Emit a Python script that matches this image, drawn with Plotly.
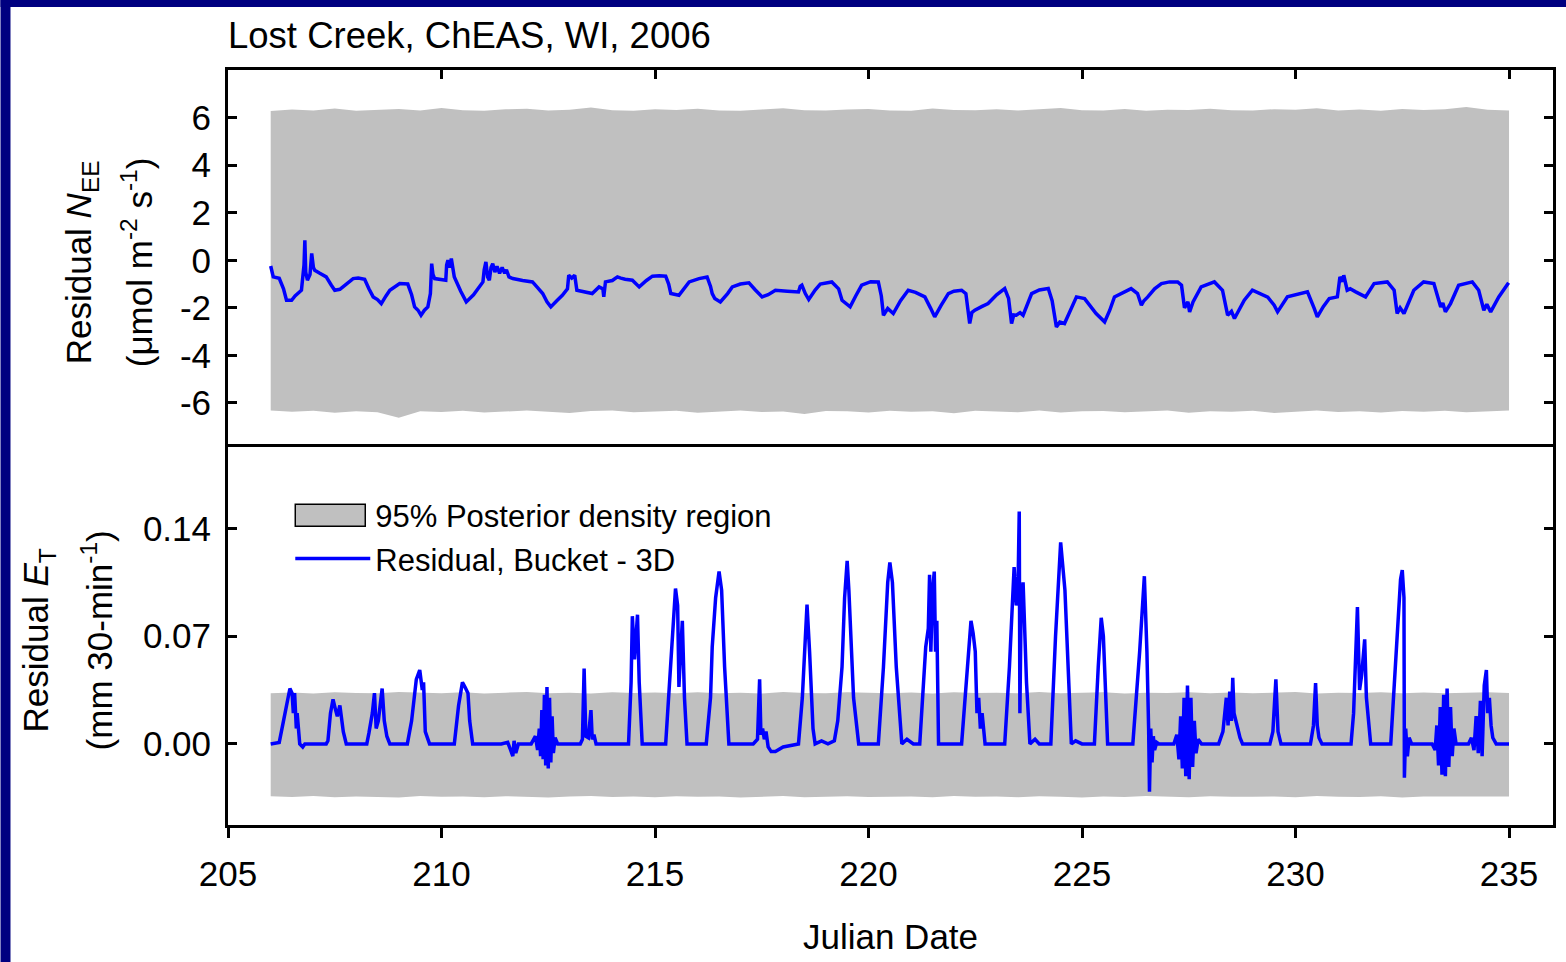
import plotly.graph_objects as go

# ---------------- data ----------------
BAND_DAY = [206.0, 206.5, 207.0, 207.5, 208.0, 208.5, 209.0, 209.5, 210.0, 210.5,
            211.0, 211.5, 212.0, 212.5, 213.0, 213.5, 214.0, 214.5, 215.0, 215.5,
            216.0, 216.5, 217.0, 217.5, 218.0, 218.5, 219.0, 219.5, 220.0, 220.5,
            221.0, 221.5, 222.0, 222.5, 223.0, 223.5, 224.0, 224.5, 225.0, 225.5,
            226.0, 226.5, 227.0, 227.5, 228.0, 228.5, 229.0, 229.5, 230.0, 230.5,
            231.0, 231.5, 232.0, 232.5, 233.0, 233.5, 234.0, 234.5, 235.0]

NEE_BAND_HI = [6.28, 6.34, 6.30, 6.38, 6.29, 6.33, 6.36, 6.30, 6.40, 6.31,
               6.29, 6.35, 6.37, 6.30, 6.33, 6.42, 6.31, 6.29, 6.35, 6.32,
               6.37, 6.30, 6.29, 6.34, 6.39, 6.31, 6.30, 6.34, 6.36, 6.30,
               6.29, 6.38, 6.32, 6.31, 6.35, 6.30, 6.34, 6.40, 6.31, 6.30,
               6.36, 6.29, 6.33, 6.32, 6.37, 6.31, 6.30, 6.35, 6.33, 6.39,
               6.30, 6.34, 6.29, 6.36, 6.32, 6.35, 6.44, 6.33, 6.30]
NEE_BAND_LO = [-6.32, -6.37, -6.33, -6.41, -6.35, -6.39, -6.62, -6.35, -6.38, -6.33,
               -6.40, -6.35, -6.32, -6.37, -6.42, -6.34, -6.32, -6.39, -6.36, -6.33,
               -6.41, -6.35, -6.32, -6.38, -6.36, -6.46, -6.34, -6.35, -6.40, -6.33,
               -6.37, -6.35, -6.43, -6.33, -6.36, -6.39, -6.32, -6.40, -6.35, -6.34,
               -6.39, -6.36, -6.32, -6.41, -6.35, -6.37, -6.33, -6.42, -6.36, -6.32,
               -6.38, -6.35, -6.40, -6.34, -6.37, -6.33, -6.39, -6.35, -6.32]

ET_BAND_HI = [0.0330, 0.0334, 0.0328, 0.0336, 0.0331, 0.0329, 0.0337, 0.0332, 0.0330, 0.0335,
              0.0328, 0.0333, 0.0338, 0.0330, 0.0332, 0.0327, 0.0335, 0.0331, 0.0334, 0.0329,
              0.0336, 0.0330, 0.0333, 0.0328, 0.0337, 0.0331, 0.0329, 0.0335, 0.0332, 0.0330,
              0.0334, 0.0328, 0.0336, 0.0331, 0.0333, 0.0329, 0.0337, 0.0330, 0.0332, 0.0335,
              0.0328, 0.0333, 0.0331, 0.0336, 0.0329, 0.0334, 0.0330, 0.0332, 0.0337, 0.0328,
              0.0333, 0.0331, 0.0335, 0.0329, 0.0334, 0.0330, 0.0332, 0.0336, 0.0331]
ET_BAND_LO = [-0.0340, -0.0345, -0.0338, -0.0347, -0.0341, -0.0343, -0.0349, -0.0339, -0.0344, -0.0342,
              -0.0346, -0.0340, -0.0343, -0.0348, -0.0341, -0.0339, -0.0345, -0.0342, -0.0347, -0.0340,
              -0.0344, -0.0341, -0.0349, -0.0343, -0.0339, -0.0346, -0.0342, -0.0340, -0.0345, -0.0343,
              -0.0341, -0.0347, -0.0339, -0.0344, -0.0342, -0.0346, -0.0340, -0.0343, -0.0348, -0.0341,
              -0.0345, -0.0339, -0.0342, -0.0347, -0.0340, -0.0344, -0.0343, -0.0341, -0.0346, -0.0339,
              -0.0343, -0.0345, -0.0340, -0.0348, -0.0342, -0.0341, -0.0344, -0.0339, -0.0342]

NEE_DAY = [206.00, 206.06, 206.20, 206.30, 206.37, 206.49, 206.57, 206.64, 206.72, 206.78,
           206.80, 206.82, 206.86, 206.92, 206.96, 207.00, 207.03, 207.15, 207.30, 207.42,
           207.50, 207.62, 207.78, 207.93, 208.05, 208.20, 208.30, 208.40, 208.50, 208.59,
           208.70, 208.79, 209.02, 209.21, 209.30, 209.37, 209.45, 209.52, 209.60, 209.68,
           209.74, 209.77, 209.80, 209.84, 210.10, 210.12, 210.15, 210.20, 210.23, 210.27,
           210.30, 210.45, 210.58, 210.75, 210.90, 210.97, 211.00, 211.04, 211.08, 211.12,
           211.16, 211.20, 211.25, 211.30, 211.36, 211.42, 211.48, 211.52, 211.58, 211.67,
           211.90, 212.13, 212.25, 212.37, 212.47, 212.56, 212.70, 212.83, 212.95, 212.98,
           213.05, 213.12, 213.17, 213.35, 213.53, 213.69, 213.78, 213.80, 213.84, 214.00,
           214.12, 214.20, 214.30, 214.47, 214.63, 214.80, 214.94, 215.10, 215.25, 215.32,
           215.37, 215.56, 215.70, 215.80, 216.03, 216.22, 216.30, 216.34, 216.40, 216.53,
           216.70, 216.81, 217.00, 217.20, 217.35, 217.51, 217.65, 217.82, 218.10, 218.36,
           218.40, 218.44, 218.52, 218.60, 218.75, 218.87, 219.14, 219.30, 219.38, 219.47,
           219.57, 219.70, 219.84, 220.05, 220.23, 220.30, 220.35, 220.45, 220.58, 220.75,
           220.93, 221.10, 221.32, 221.45, 221.55, 221.70, 221.87, 222.00, 222.18, 222.28,
           222.37, 222.42, 222.49, 222.65, 222.80, 223.00, 223.19, 223.28, 223.35, 223.40,
           223.46, 223.55, 223.62, 223.82, 224.00, 224.21, 224.30, 224.40, 224.48, 224.59,
           224.75, 224.87, 225.06, 225.20, 225.33, 225.53, 225.65, 225.76, 225.80, 226.00,
           226.15, 226.30, 226.39, 226.45, 226.54, 226.70, 226.86, 227.05, 227.24, 227.33,
           227.40, 227.48, 227.52, 227.60, 227.79, 228.10, 228.29, 228.41, 228.50, 228.57,
           228.80, 228.99, 229.19, 229.35, 229.50, 229.58, 229.81, 230.05, 230.28, 230.44,
           230.51, 230.65, 230.79, 230.98, 231.02, 231.04, 231.10, 231.13, 231.21, 231.28,
           231.41, 231.64, 231.84, 232.15, 232.31, 232.38, 232.45, 232.54, 232.77, 233.00,
           233.24, 233.40, 233.45, 233.51, 233.63, 233.82, 234.14, 234.29, 234.41, 234.48,
           234.57, 234.76, 234.99]
NEE_RES = [-0.24, -0.70, -0.76, -1.20, -1.68, -1.68, -1.50, -1.40, -1.26, -0.20,
           0.84, -0.50, -0.84, -0.60, 0.29, -0.30, -0.42, -0.55, -0.70, -1.05,
           -1.26, -1.22, -1.00, -0.77, -0.75, -0.80, -1.20, -1.54, -1.65, -1.82,
           -1.50, -1.26, -0.98, -1.00, -1.45, -1.96, -2.10, -2.31, -2.10, -1.96,
           -1.40, -0.14, -0.60, -0.77, -0.84, -0.20, 0.00, -0.30, 0.07, -0.30,
           -0.70, -1.30, -1.75, -1.45, -1.10, -0.91, -0.40, -0.07, -0.70, -0.84,
           -0.30, -0.14, -0.50, -0.25, -0.55, -0.30, -0.55, -0.40, -0.70, -0.77,
           -0.85, -0.91, -1.15, -1.40, -1.75, -1.96, -1.70, -1.47, -1.20, -0.63,
           -0.75, -0.63, -1.26, -1.32, -1.40, -1.12, -1.20, -1.54, -0.91, -0.85,
           -0.70, -0.75, -0.80, -0.84, -1.12, -0.85, -0.67, -0.65, -0.67, -1.00,
           -1.40, -1.47, -1.15, -0.91, -0.77, -0.70, -1.10, -1.40, -1.61, -1.75,
           -1.40, -1.12, -1.00, -0.95, -1.25, -1.54, -1.45, -1.26, -1.30, -1.33,
           -1.10, -1.05, -1.40, -1.65, -1.25, -1.00, -0.91, -1.20, -1.68, -1.80,
           -1.96, -1.50, -1.05, -0.90, -0.91, -1.50, -2.31, -2.03, -2.24, -1.70,
           -1.26, -1.35, -1.54, -2.00, -2.38, -1.90, -1.40, -1.30, -1.26, -1.40,
           -2.66, -2.20, -2.10, -1.95, -1.82, -1.45, -1.19, -1.60, -2.66, -2.30,
           -2.31, -2.20, -2.31, -1.40, -1.25, -1.19, -1.70, -2.80, -2.60, -2.66,
           -2.00, -1.54, -1.61, -1.95, -2.24, -2.59, -2.10, -1.54, -1.50, -1.30,
           -1.19, -1.40, -1.89, -1.70, -1.54, -1.20, -0.98, -0.91, -0.91, -1.05,
           -2.00, -1.75, -2.17, -1.75, -1.12, -0.91, -1.26, -2.31, -2.15, -2.45,
           -1.68, -1.26, -1.40, -1.55, -1.89, -2.17, -1.54, -1.45, -1.33, -2.03,
           -2.38, -1.95, -1.61, -1.54, -1.00, -0.70, -0.90, -0.63, -1.26, -1.20,
           -1.33, -1.54, -0.98, -0.91, -1.26, -2.24, -2.00, -2.24, -1.26, -0.91,
           -0.98, -1.96, -1.80, -2.17, -1.82, -1.05, -0.91, -1.26, -2.10, -1.85,
           -2.17, -1.54, -0.95]

ET_DAY = [206.00, 206.20, 206.30, 206.40, 206.45, 206.50, 206.53, 206.56, 206.60, 206.62,
          206.68, 206.75, 206.80, 207.30, 207.34, 207.40, 207.46, 207.52, 207.56, 207.62,
          207.70, 207.77, 208.25, 208.30, 208.38, 208.43, 208.47, 208.52, 208.58, 208.61,
          208.66, 208.72, 208.79, 209.20, 209.30, 209.41, 209.49, 209.55, 209.58, 209.62,
          209.72, 210.30, 210.40, 210.49, 210.55, 210.62, 210.66, 210.73, 211.40, 211.55,
          211.62, 211.67, 211.70, 211.74, 211.80, 212.10, 212.20, 212.25, 212.29, 212.32,
          212.35, 212.38, 212.41, 212.44, 212.47, 212.50, 212.53, 212.56, 212.59, 212.62,
          212.66, 212.72, 213.25, 213.30, 213.34, 213.38, 213.44, 213.50, 213.53, 213.57,
          213.62, 214.38, 214.44, 214.47, 214.52, 214.55, 214.59, 214.63, 214.70, 215.25,
          215.32, 215.40, 215.48, 215.53, 215.56, 215.60, 215.64, 215.69, 215.75, 216.20,
          216.30, 216.34, 216.42, 216.50, 216.56, 216.63, 216.73, 217.30, 217.40, 217.45,
          217.48, 217.52, 217.56, 217.60, 217.65, 217.72, 217.82, 218.00, 218.36, 218.45,
          218.52, 218.56, 218.62, 218.70, 218.75, 218.90, 219.05, 219.20, 219.28, 219.38,
          219.44, 219.50, 219.54, 219.58, 219.65, 219.77, 220.23, 220.35, 220.45, 220.50,
          220.56, 220.65, 220.78, 220.90, 221.05, 221.20, 221.30, 221.34, 221.40, 221.43,
          221.46, 221.50, 221.54, 221.57, 221.60, 221.64, 222.18, 222.30, 222.40, 222.45,
          222.50, 222.54, 222.58, 222.62, 222.66, 222.73, 223.19, 223.30, 223.41, 223.46,
          223.50, 223.53, 223.545, 223.57, 223.62, 223.70, 223.78, 223.90, 224.00, 224.27,
          224.38, 224.50, 224.60, 224.75, 224.85, 225.00, 225.29, 225.38, 225.45, 225.50,
          225.55, 225.60, 226.19, 226.35, 226.46, 226.52, 226.56, 226.58, 226.61, 226.64,
          226.67, 226.70, 226.75, 226.80, 227.15, 227.22, 227.27, 227.31, 227.35, 227.39,
          227.43, 227.47, 227.51, 227.55, 227.59, 227.63, 227.67, 227.72, 227.80, 228.20,
          228.30, 228.38, 228.42, 228.46, 228.50, 228.53, 228.56, 228.62, 228.70, 228.76,
          229.40, 229.47, 229.54, 229.59, 229.66, 230.35, 230.42, 230.47, 230.51, 230.55,
          230.62, 231.30, 231.36, 231.45, 231.50, 231.55, 231.62, 231.66, 231.76, 232.23,
          232.35, 232.46, 232.50, 232.54, 232.55, 232.58, 232.62, 232.66, 232.72, 233.20,
          233.27, 233.31, 233.35, 233.39, 233.43, 233.47, 233.51, 233.55, 233.59, 233.63,
          233.67, 233.71, 233.76, 234.05, 234.12, 234.18, 234.23, 234.28, 234.33, 234.37,
          234.42, 234.47, 234.50, 234.54, 234.58, 234.62, 234.70, 235.00]
ET_RES = [0.000, 0.001, 0.015, 0.030, 0.036, 0.033, 0.020, 0.033, 0.010, 0.020,
          0.000, -0.002, 0.000, 0.000, 0.002, 0.020, 0.029, 0.022, 0.018, 0.025,
          0.008, 0.000, 0.000, 0.007, 0.020, 0.033, 0.010, 0.015, 0.030, 0.036,
          0.015, 0.005, 0.000, 0.000, 0.015, 0.042, 0.048, 0.035, 0.040, 0.008,
          0.000, 0.000, 0.025, 0.040, 0.037, 0.033, 0.015, 0.000, 0.000, 0.001,
          -0.004, -0.008, 0.002, -0.006, 0.000, 0.000, 0.005, -0.004, 0.010, -0.008,
          0.022, -0.010, 0.032, -0.014, 0.037, -0.016, 0.030, -0.012, 0.018, -0.006,
          0.004, 0.000, 0.000, 0.003, 0.049, 0.005, 0.004, 0.022, 0.003, 0.006,
          0.000, 0.000, 0.040, 0.083, 0.055, 0.070, 0.084, 0.040, 0.000, 0.000,
          0.030, 0.070, 0.101, 0.090, 0.037, 0.060, 0.080, 0.030, 0.000, 0.000,
          0.030, 0.063, 0.095, 0.112, 0.100, 0.050, 0.000, 0.000, 0.003, 0.042,
          0.006, 0.010, 0.003, 0.008, -0.002, -0.005, -0.005, -0.002, 0.000, 0.030,
          0.070, 0.0905, 0.060, 0.010, 0.000, 0.002, 0.000, 0.002, 0.015, 0.050,
          0.095, 0.119, 0.100, 0.070, 0.030, 0.000, 0.000, 0.050, 0.105, 0.118,
          0.105, 0.050, 0.000, 0.003, 0.000, 0.000, 0.040, 0.063, 0.075, 0.110,
          0.060, 0.100, 0.112, 0.060, 0.080, 0.000, 0.000, 0.040, 0.080, 0.072,
          0.060, 0.020, 0.030, 0.010, 0.020, 0.000, 0.000, 0.050, 0.115, 0.090,
          0.100, 0.151, 0.020, 0.080, 0.105, 0.040, 0.000, 0.003, 0.000, 0.000,
          0.070, 0.131, 0.100, 0.000, 0.002, 0.000, 0.000, 0.050, 0.082, 0.070,
          0.040, 0.000, 0.000, 0.060, 0.109, 0.060, 0.010, -0.031, 0.010, -0.012,
          0.005, -0.004, 0.001, 0.000, 0.000, 0.006, -0.010, 0.018, -0.016, 0.030,
          -0.021, 0.038, -0.023, 0.030, -0.015, 0.015, -0.006, 0.003, 0.000, 0.000,
          0.008, 0.030, 0.012, 0.034, 0.015, 0.043, 0.020, 0.012, 0.004, 0.000,
          0.000, 0.008, 0.042, 0.008, 0.000, 0.000, 0.012, 0.0395, 0.012, 0.004,
          0.000, 0.000, 0.020, 0.089, 0.035, 0.045, 0.068, 0.030, 0.000, 0.000,
          0.060, 0.107, 0.113, 0.095, -0.022, 0.010, -0.008, 0.004, 0.000, 0.000,
          -0.004, 0.012, -0.014, 0.024, -0.020, 0.032, -0.021, 0.036, -0.015, 0.024,
          -0.008, 0.010, 0.000, 0.000, 0.004, -0.004, 0.018, -0.006, 0.028, -0.008,
          0.038, 0.048, 0.020, 0.030, 0.012, 0.004, 0.000, 0.000]

X_TICKS = [205, 210, 215, 220, 225, 230, 235]
NEE_TICKS = [-6, -4, -2, 0, 2, 4, 6]
NEE_TICK_TEXT = ["-6", "-4", "-2", "0", "2", "4", "6"]
ET_TICKS = [0.00, 0.07, 0.14]
ET_TICK_TEXT = ["0.00", "0.07", "0.14"]

TITLE = "Lost Creek, ChEAS, WI, 2006"
BAND_NAME = "95% Posterior density region"
LINE_NAME = "Residual, Bucket - 3D"

# ---------------- style ----------------
FONT = "Liberation Sans, Arial, sans-serif"
NAVY = "#000080"
GRAY = "#C0C0C0"
BLUE = "#0000FF"
TICKFONT = dict(family=FONT, size=35, color="black")

fig = go.Figure()

# top panel
fig.add_trace(go.Scatter(x=BAND_DAY, y=NEE_BAND_LO, mode="lines", line=dict(width=0, color=GRAY),
                         showlegend=False, hoverinfo="skip", xaxis="x", yaxis="y"))
fig.add_trace(go.Scatter(x=BAND_DAY, y=NEE_BAND_HI, mode="lines", line=dict(width=0, color=GRAY),
                         fill="tonexty", fillcolor=GRAY, showlegend=False, xaxis="x", yaxis="y"))
fig.add_trace(go.Scatter(x=NEE_DAY, y=NEE_RES, mode="lines", line=dict(width=3.5, color=BLUE),
                         showlegend=False, xaxis="x", yaxis="y"))

# bottom panel
fig.add_trace(go.Scatter(x=BAND_DAY, y=ET_BAND_LO, mode="lines", line=dict(width=0, color=GRAY),
                         showlegend=False, hoverinfo="skip", xaxis="x2", yaxis="y2"))
fig.add_trace(go.Scatter(x=BAND_DAY, y=ET_BAND_HI, mode="lines", line=dict(width=0, color=GRAY),
                         fill="tonexty", fillcolor=GRAY, showlegend=False,
                         xaxis="x2", yaxis="y2"))
# legend key for the band (no data drawn)
fig.add_trace(go.Scatter(x=[None], y=[None], mode="lines", fill="toself", fillcolor=GRAY,
                         line=dict(width=0, color=GRAY), name=BAND_NAME, showlegend=True,
                         xaxis="x2", yaxis="y2"))
fig.add_trace(go.Scatter(x=ET_DAY, y=ET_RES, mode="lines", line=dict(width=3.5, color=BLUE),
                         name=LINE_NAME, showlegend=True, xaxis="x2", yaxis="y2"))

XR = [205, 236.03]
SPLIT = 0.5007
common_line = dict(linewidth=3, linecolor="black", showgrid=False, zeroline=False,
                   tickwidth=3, tickcolor="black", tickfont=TICKFONT)

# paper coordinates of the page edges (for the navy frame strips)
PX0 = -228 / 1328
PX_LEFT = (10 - 228) / 1328
PY_TOP = 825 / 755
PY_STRIP = (825 - 7) / 755

fig.update_layout(
    width=1566, height=962,
    margin=dict(l=228, r=10, t=70, b=137),
    paper_bgcolor="white", plot_bgcolor="white",
    font=dict(family=FONT, color="black"),
    xaxis=dict(domain=[0, 1], anchor="y", range=XR, tickvals=X_TICKS, showticklabels=False,
               side="top", showline=True, mirror=False, ticks="inside", ticklen=9, **common_line),
    xaxis4=dict(overlaying="x", anchor="y", range=XR, tickvals=X_TICKS, showticklabels=False,
                side="bottom", showline=False, ticks="inside", ticklen=9, **common_line),
    yaxis=dict(domain=[SPLIT, 1], anchor="x", range=[-7.85, 8.0], tickvals=NEE_TICKS,
               ticktext=NEE_TICK_TEXT, showline=True,
               ticks="inside", ticklen=9, mirror="ticks", ticklabelstandoff=7, **common_line),
    xaxis2=dict(domain=[0, 1], anchor="y2", range=XR, tickvals=X_TICKS, showline=True,
                ticks="outside", ticklen=10, mirror=True, ticklabelstandoff=6,
                title=dict(text="Julian Date", font=dict(family=FONT, size=35, color="black"), standoff=33),
                **common_line),
    xaxis3=dict(overlaying="x2", anchor="y2", range=XR, tickvals=X_TICKS, showticklabels=False,
                showline=True, ticks="inside", ticklen=8, mirror="ticks", **common_line),
    yaxis2=dict(domain=[0, SPLIT], anchor="x2", range=[-0.0527, 0.193], tickvals=ET_TICKS,
                ticktext=ET_TICK_TEXT, showline=True, ticks="inside", ticklen=9, mirror="ticks",
                ticklabelstandoff=7, **common_line),
    legend=dict(x=0.047, y=0.4456, xanchor="left", yanchor="top", bgcolor="rgba(0,0,0,0)",
                font=dict(family=FONT, size=31, color="black"), itemwidth=75,
                tracegroupgap=0, traceorder="normal"),
    shapes=[
        dict(type="rect", xref="paper", yref="paper", layer="above",
             x0=PX0, x1=PX_LEFT, y0=-0.2, y1=PY_TOP, fillcolor=NAVY, line=dict(width=0)),
        dict(type="rect", xref="paper", yref="paper", layer="above",
             x0=PX0, x1=1.01, y0=PY_STRIP, y1=PY_TOP, fillcolor=NAVY, line=dict(width=0)),
    ],
    annotations=[
        dict(text=TITLE, xref="paper", yref="paper", x=-0.0015, y=1.046, xanchor="left",
             yanchor="middle", showarrow=False, font=dict(family=FONT, size=36.5, color="black")),
        dict(text="Residual <i>N</i><sub>EE</sub>", xref="paper", yref="paper", x=-0.1107, y=0.7457,
             textangle=-90, xanchor="center", yanchor="middle", showarrow=False,
             font=dict(family=FONT, size=35, color="black")),
        dict(text="(μmol m<sup>-2</sup> s<sup>-1</sup>)", xref="paper", yref="paper", x=-0.0685, y=0.7457,
             textangle=-90, xanchor="center", yanchor="middle", showarrow=False,
             font=dict(family=FONT, size=35, color="black")),
        dict(text="Residual <i>E</i><sub>T</sub>", xref="paper", yref="paper", x=-0.1431, y=0.245,
             textangle=-90, xanchor="center", yanchor="middle", showarrow=False,
             font=dict(family=FONT, size=35, color="black")),
        dict(text="(mm 30-min<sup>-1</sup>)", xref="paper", yref="paper", x=-0.0986, y=0.245,
             textangle=-90, xanchor="center", yanchor="middle", showarrow=False,
             font=dict(family=FONT, size=35, color="black")),
    ],
)

# page reset + legend key drawn as an outlined box (as in the reference legend)
POST_JS = """
document.body.style.margin='0';
document.body.style.overflow='hidden';
var gd = document.getElementById('{plot_id}');
function boxKey(){
  gd.querySelectorAll('g.legend g.traces g.legendfill path').forEach(function(p){
    p.setAttribute('d','M5,-11h70v22h-70z');
    p.style.stroke='#000';
    p.style.strokeWidth='1.5px';
  });
}
boxKey();
gd.on('plotly_afterplot', boxKey);
"""

fig.write_html("out.html", config={"displayModeBar": False}, post_script=POST_JS)
